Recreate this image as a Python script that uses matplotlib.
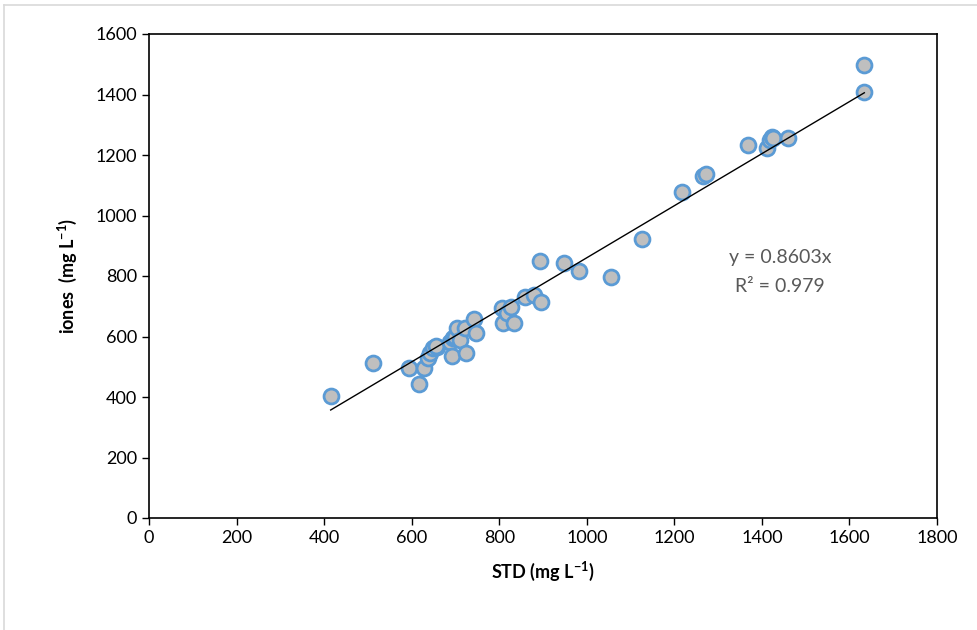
import matplotlib
matplotlib.use('Agg')
import matplotlib.pyplot as plt
import numpy as np
from matplotlib.lines import Line2D

# STD vs iones data (mg/L)
std = [415, 512, 593, 617, 628, 638, 642, 649, 657, 655,
       687, 691, 695, 699, 703, 710, 722, 723, 743, 746,
       807, 808, 817, 827, 834, 860, 880, 893, 895, 949,
       982, 1055, 1127, 1217, 1266, 1272, 1369, 1411, 1418, 1424,
       1426, 1459, 1634, 1634]
iones = [403, 511, 495, 443, 497, 529, 544, 561, 566, 570,
         583, 537, 596, 599, 627, 590, 627, 547, 657, 611,
         693, 646, 677, 697, 646, 730, 737, 851, 715, 844,
         818, 798, 921, 1077, 1131, 1136, 1233, 1222, 1250, 1260,
         1255, 1255, 1497, 1409]
slope = 0.8603
r2 = 0.979

plt.rcParams['font.family'] = ['Lato', 'DejaVu Sans']
plt.rcParams['mathtext.fontset'] = 'custom'
plt.rcParams['mathtext.rm'] = 'Lato'
plt.rcParams['mathtext.bf'] = 'Lato:bold'

fig = plt.figure(figsize=(9.77, 6.30), dpi=100)
ax = fig.add_axes([149/977, 112/630, 788/977, 484/630])

ax.scatter(std, iones, s=115, facecolor='#BFBFBF', edgecolor='#5B9BD5',
           linewidth=2, zorder=3)

xfit = np.array([min(std), max(std)])
ax.plot(xfit, slope*xfit, color='black', lw=1, zorder=4)

ax.text(1441, 860, f'y = {slope}x', ha='center', va='center',
        fontsize=14, color='#595959')
ax.text(1441, 764, f'R² = {r2}', ha='center', va='center',
        fontsize=14, color='#595959')

ax.set_xlim(0, 1800)
ax.set_ylim(0, 1600)
ax.set_xticks(range(0, 1801, 200))
ax.set_yticks(range(0, 1601, 200))
ax.tick_params(direction='out', length=5, width=1, labelsize=13, colors='black')
for s in ax.spines.values():
    s.set_linewidth(1.2)
    s.set_color('black')

ax.set_xlabel(r'STD (mg L$^{\mathbf{-1}}$)', fontsize=13, fontweight='bold', labelpad=10)
ax.set_ylabel(r'iones  (mg L$^{\mathbf{-1}}$)', fontsize=13, fontweight='bold', labelpad=12)

# light chart-area frame
fig.add_artist(Line2D([4/977, 4/977], [0, 1 - 5/630], color='#D9D9D9', lw=1.2))
fig.add_artist(Line2D([4/977, 1], [1 - 5/630, 1 - 5/630], color='#D9D9D9', lw=1.2))

fig.savefig('out.png', dpi=100)
